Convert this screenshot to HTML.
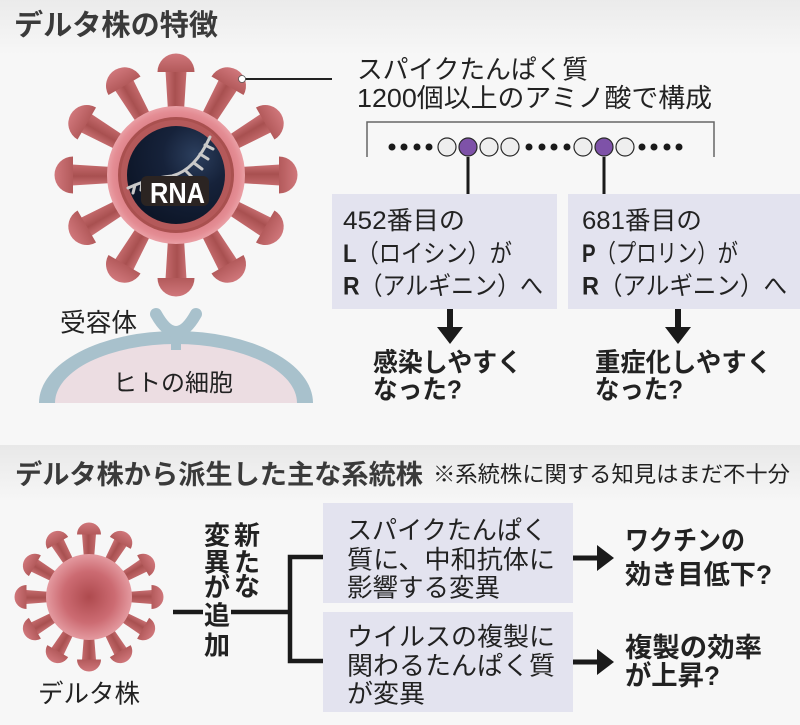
<!DOCTYPE html>
<html><head><meta charset="utf-8">
<style>
html,body{margin:0;padding:0;background:#f7f7f7;}
svg{display:block;}
text{font-family:"Liberation Sans","Noto Sans CJK JP",sans-serif;fill:#222;}
.b{font-weight:bold;}
</style></head>
<body>
<svg width="800" height="725" viewBox="0 0 800 725" xmlns="http://www.w3.org/2000/svg">
<defs>
  <linearGradient id="topbg" x1="0" y1="0" x2="0" y2="1">
    <stop offset="0" stop-color="#ebebeb"/><stop offset="1" stop-color="#f7f7f7"/>
  </linearGradient>
  <linearGradient id="band" x1="0" y1="0" x2="0" y2="1">
    <stop offset="0" stop-color="#e8e8e8"/><stop offset="1" stop-color="#f6f6f6"/>
  </linearGradient>
  <linearGradient id="stalk" x1="0" y1="0" x2="1" y2="0">
    <stop offset="0" stop-color="#c86f72"/><stop offset="0.45" stop-color="#a85050"/><stop offset="1" stop-color="#c46a6c"/>
  </linearGradient>
  <linearGradient id="cap" x1="0" y1="0" x2="0" y2="1">
    <stop offset="0" stop-color="#d0777b"/><stop offset="1" stop-color="#b35a5b"/>
  </linearGradient>
  <radialGradient id="ring" cx="0.5" cy="0.5" r="0.5">
    <stop offset="0.75" stop-color="#d97a82"/><stop offset="0.92" stop-color="#e48d94"/><stop offset="1" stop-color="#eaa0a6"/>
  </radialGradient>
  <radialGradient id="navy" cx="0.7" cy="0.3" r="0.75">
    <stop offset="0" stop-color="#2c3f5e"/><stop offset="0.45" stop-color="#16223a"/><stop offset="1" stop-color="#0d1628"/>
  </radialGradient>
  <radialGradient id="body" cx="0.5" cy="0.5" r="0.5">
    <stop offset="0" stop-color="#ae4a4e"/><stop offset="0.6" stop-color="#cc6b72"/><stop offset="1" stop-color="#e49aa0"/>
  </radialGradient>
  <g id="spikeL">
    <polygon points="-8,-64 8,-64 10.5,-104 -10.5,-104" fill="url(#stalk)"/>
    <path d="M -18.5 -103 A 18.5 18.5 0 0 1 18.5 -103 Z" fill="url(#cap)"/>
  </g>
  <g id="spikeS">
    <polygon points="-5,-38 5,-38 7,-63 -7,-63" fill="url(#stalk)"/>
    <path d="M -12 -62.5 A 12 12 0 0 1 12 -62.5 Z" fill="url(#cap)"/>
  </g>
</defs>

<!-- backgrounds -->
<rect x="0" y="0" width="800" height="725" fill="#f7f7f7"/>
<rect x="0" y="0" width="800" height="55" fill="url(#topbg)"/>
<rect x="0" y="445" width="800" height="55" fill="url(#band)"/>

<!-- Title -->
<text class="b" x="14" y="35" font-size="29" textLength="204" lengthAdjust="spacingAndGlyphs" style="fill:#3a3a3a">デルタ株の特徴</text>

<!-- Top virus -->
<g transform="translate(176,175)">
  <use href="#spikeL" transform="rotate(0)"/>
  <use href="#spikeL" transform="rotate(30)"/>
  <use href="#spikeL" transform="rotate(60)"/>
  <use href="#spikeL" transform="rotate(90)"/>
  <use href="#spikeL" transform="rotate(120)"/>
  <use href="#spikeL" transform="rotate(150)"/>
  <use href="#spikeL" transform="rotate(180)"/>
  <use href="#spikeL" transform="rotate(210)"/>
  <use href="#spikeL" transform="rotate(240)"/>
  <use href="#spikeL" transform="rotate(270)"/>
  <use href="#spikeL" transform="rotate(300)"/>
  <use href="#spikeL" transform="rotate(330)"/>
  <circle cx="0" cy="0" r="69" fill="url(#ring)"/>
  <circle cx="0" cy="0" r="58" fill="#a9504f"/>
  <circle cx="0" cy="0" r="55" fill="#b4595a"/>
  <circle cx="0" cy="0" r="49" fill="url(#navy)"/>
</g>
<!-- RNA strand -->
<g stroke="#c9c9c9" stroke-width="3" fill="none" stroke-linecap="round">
  <path d="M 128 188 Q 150 178 172 176 Q 195 170 210 137"/>
  <line x1="186" y1="171" x2="193" y2="178"/>
  <line x1="194" y1="163" x2="202" y2="169"/>
  <line x1="200" y1="154" x2="208" y2="159"/>
  <line x1="205" y1="145" x2="213" y2="149"/>
  <line x1="135" y1="185" x2="133" y2="193"/>
  <line x1="142" y1="182" x2="141" y2="190"/>
</g>
<rect x="141" y="176" width="68" height="30" rx="6" fill="#2b2422"/>
<text class="b" x="150" y="203" font-size="29" textLength="55" lengthAdjust="spacingAndGlyphs" style="fill:#fff">RNA</text>

<!-- connector to spike -->
<line x1="245" y1="79" x2="332" y2="79" stroke="#222" stroke-width="2"/>
<circle cx="242" cy="79" r="3.5" fill="#fff" stroke="#555" stroke-width="0.8"/>

<text x="357" y="78.6" font-size="26" textLength="231" lengthAdjust="spacingAndGlyphs">スパイクたんぱく質</text>
<text x="357" y="107" font-size="26" textLength="355" lengthAdjust="spacingAndGlyphs">1200個以上のアミノ酸で構成</text>

<!-- bracket -->
<path d="M 367 157 L 367 122 L 714 122 L 714 157" fill="none" stroke="#666" stroke-width="1.5"/>

<!-- dots -->
<g fill="#1a1a1a">
  <circle cx="392" cy="147" r="3.5"/><circle cx="404" cy="147" r="3.5"/><circle cx="417" cy="147" r="3.5"/><circle cx="429" cy="147" r="3.5"/>
  <circle cx="529" cy="147" r="3.5"/><circle cx="542" cy="147" r="3.5"/><circle cx="554" cy="147" r="3.5"/><circle cx="567" cy="147" r="3.5"/>
  <circle cx="642" cy="147" r="3.5"/><circle cx="654" cy="147" r="3.5"/><circle cx="667" cy="147" r="3.5"/><circle cx="679" cy="147" r="3.5"/>
</g>
<g stroke="#2a2a2a" stroke-width="1.2">
  <circle cx="447" cy="147" r="9" fill="#eeeeee"/>
  <circle cx="468" cy="147" r="9" fill="#7e52a8"/>
  <circle cx="489" cy="147" r="9" fill="#eeeeee"/>
  <circle cx="510" cy="147" r="9" fill="#eeeeee"/>
  <circle cx="583" cy="147" r="9" fill="#eeeeee"/>
  <circle cx="604" cy="147" r="9" fill="#7e52a8"/>
  <circle cx="625" cy="147" r="9" fill="#eeeeee"/>
</g>
<line x1="468" y1="157" x2="468" y2="194" stroke="#1a1a1a" stroke-width="3"/>
<line x1="604" y1="157" x2="604" y2="194" stroke="#1a1a1a" stroke-width="3"/>

<!-- boxes top -->
<rect x="332" y="194" width="225" height="115" fill="#e3e3ef"/>
<rect x="568" y="194" width="232" height="115" fill="#e3e3ef"/>
<text x="343" y="229" font-size="25" textLength="122" lengthAdjust="spacingAndGlyphs">452番目の</text>
<text x="343" y="262" font-size="25" textLength="169" lengthAdjust="spacingAndGlyphs"><tspan class="b">L</tspan>（ロイシン）が</text>
<text x="343" y="294.5" font-size="25" textLength="200" lengthAdjust="spacingAndGlyphs"><tspan class="b">R</tspan>（アルギニン）へ</text>
<text x="582" y="229" font-size="25" textLength="120" lengthAdjust="spacingAndGlyphs">681番目の</text>
<text x="582" y="262" font-size="25" textLength="156" lengthAdjust="spacingAndGlyphs"><tspan class="b">P</tspan>（プロリン）が</text>
<text x="582" y="294.5" font-size="25" textLength="205" lengthAdjust="spacingAndGlyphs"><tspan class="b">R</tspan>（アルギニン）へ</text>

<!-- down arrows -->
<g fill="#1a1a1a">
  <rect x="447" y="309" width="6" height="20"/>
  <polygon points="437,327 463,327 450,344"/>
  <rect x="675" y="309" width="6" height="20"/>
  <polygon points="665,327 691,327 678,344"/>
</g>
<text class="b" x="373" y="371.5" font-size="26" textLength="149" lengthAdjust="spacingAndGlyphs">感染しやすく</text>
<text class="b" x="373" y="398.5" font-size="26" textLength="89" lengthAdjust="spacingAndGlyphs">なった?</text>
<text class="b" x="595" y="371.5" font-size="26" textLength="177" lengthAdjust="spacingAndGlyphs">重症化しやすく</text>
<text class="b" x="595" y="398.5" font-size="26" textLength="88" lengthAdjust="spacingAndGlyphs">なった?</text>

<!-- receptor & cell -->
<path d="M 39 403 A 137 72 0 0 1 313 403 Z" fill="#a8c1cc"/>
<path d="M 55 403 A 121 59 0 0 1 297 403 Z" fill="#ecdde2"/>
<line x1="176" y1="330" x2="176" y2="350" stroke="#a8c1cc" stroke-width="10"/>
<path d="M 156 314 Q 176 350 196 314" fill="none" stroke="#a8c1cc" stroke-width="12" stroke-linecap="round"/>
<text x="60" y="331.5" font-size="25.5" textLength="77" lengthAdjust="spacingAndGlyphs">受容体</text>
<text x="113" y="391" font-size="24" textLength="120" lengthAdjust="spacingAndGlyphs">ヒトの細胞</text>

<!-- bottom section title -->
<text class="b" x="15" y="484" font-size="27" textLength="408" lengthAdjust="spacingAndGlyphs" style="fill:#3a3a3a">デルタ株から派生した主な系統株</text>
<text x="433" y="482" font-size="22" textLength="357" lengthAdjust="spacingAndGlyphs">※系統株に関する知見はまだ不十分</text>

<!-- bottom virus -->
<g transform="translate(89,597)">
  <use href="#spikeS" transform="rotate(0)"/>
  <use href="#spikeS" transform="rotate(30)"/>
  <use href="#spikeS" transform="rotate(60)"/>
  <use href="#spikeS" transform="rotate(90)"/>
  <use href="#spikeS" transform="rotate(120)"/>
  <use href="#spikeS" transform="rotate(150)"/>
  <use href="#spikeS" transform="rotate(180)"/>
  <use href="#spikeS" transform="rotate(210)"/>
  <use href="#spikeS" transform="rotate(240)"/>
  <use href="#spikeS" transform="rotate(270)"/>
  <use href="#spikeS" transform="rotate(300)"/>
  <use href="#spikeS" transform="rotate(330)"/>
  <circle cx="0" cy="0" r="43" fill="url(#body)"/>
</g>
<text x="38" y="702.5" font-size="25.5" textLength="102" lengthAdjust="spacingAndGlyphs">デルタ株</text>

<!-- connectors bottom -->
<g stroke="#1a1a1a" stroke-width="4.5" fill="none">
  <line x1="173" y1="612" x2="203" y2="612"/>
  <line x1="231" y1="612" x2="290" y2="612"/>
  <path d="M 323 557 L 290 557 L 290 661 L 323 661"/>
</g>
<g font-size="26" text-anchor="middle">
  <text class="b" x="217" y="544.6">変</text>
  <text class="b" x="217" y="571.6">異</text>
  <text class="b" x="217" y="596.6">が</text>
  <text class="b" x="217" y="624.6">追</text>
  <text class="b" x="217" y="654.6">加</text>
  <text class="b" x="247" y="544.6">新</text>
  <text class="b" x="247" y="571.6">た</text>
  <text class="b" x="247" y="595.6">な</text>
</g>

<!-- bottom boxes -->
<rect x="323" y="503" width="250" height="100" fill="#e3e3ef"/>
<rect x="323" y="612" width="250" height="100" fill="#e3e3ef"/>
<text x="347" y="539" font-size="25.5" textLength="200" lengthAdjust="spacingAndGlyphs">スパイクたんぱく</text>
<text x="347" y="568.4" font-size="25.5" textLength="208" lengthAdjust="spacingAndGlyphs">質に、中和抗体に</text>
<text x="347" y="596.4" font-size="25.5" textLength="153" lengthAdjust="spacingAndGlyphs">影響する変異</text>
<text x="347" y="645.4" font-size="25.5" textLength="208" lengthAdjust="spacingAndGlyphs">ウイルスの複製に</text>
<text x="347" y="674.4" font-size="25.5" textLength="208" lengthAdjust="spacingAndGlyphs">関わるたんぱく質</text>
<text x="347" y="702.4" font-size="25.5" textLength="78" lengthAdjust="spacingAndGlyphs">が変異</text>

<!-- right arrows -->
<g fill="#1a1a1a">
  <rect x="573" y="555.5" width="27" height="5"/>
  <polygon points="597,545 614,558 597,571"/>
  <rect x="573" y="659.5" width="27" height="5"/>
  <polygon points="597,649 614,662 597,675"/>
</g>
<text class="b" x="625" y="550" font-size="27" textLength="120" lengthAdjust="spacingAndGlyphs">ワクチンの</text>
<text class="b" x="625" y="584" font-size="27" textLength="147" lengthAdjust="spacingAndGlyphs">効き目低下?</text>
<text class="b" x="625" y="657" font-size="27" textLength="137" lengthAdjust="spacingAndGlyphs">複製の効率</text>
<text class="b" x="625" y="685" font-size="27" textLength="95" lengthAdjust="spacingAndGlyphs">が上昇?</text>
</svg>
</body></html>
